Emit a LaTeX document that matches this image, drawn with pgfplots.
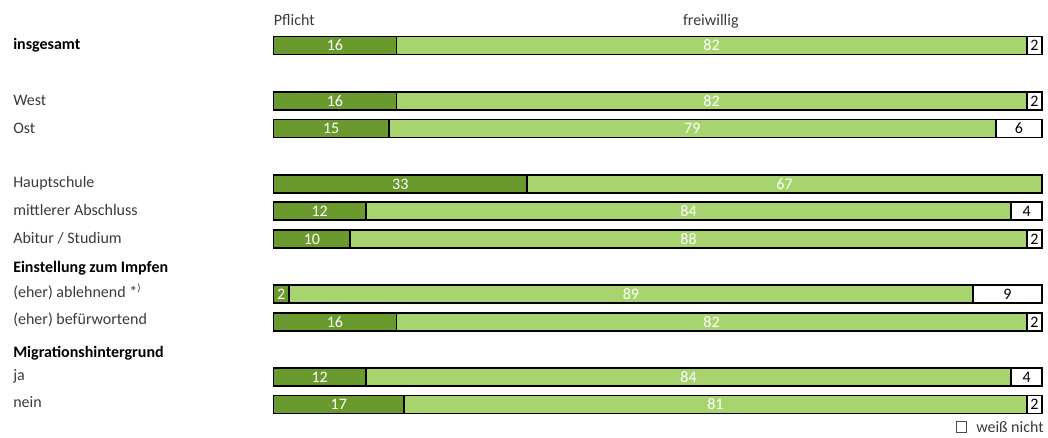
\documentclass[border=0pt]{standalone}
\usepackage{pgfplots}
\pgfplotsset{compat=1.18}
\usepackage{pgfplotstable}
\usepackage{fontspec}
\setmainfont{Carlito}

\definecolor{pflicht}{HTML}{6A992E}
\definecolor{frei}{HTML}{A8D470}
\definecolor{lbl}{HTML}{3A3A3A}

% y = row position (pixels from top), p = Pflicht, f = freiwillig, w = weiss nicht
\pgfplotstableread{
y     p  f  w
45.5  16 82 2
101   16 82 2
128.5 15 79 6
184   33 67 0
211   12 84 4
239   10 88 2
294   2  89 9
322   16 82 2
377   12 84 4
404.5 17 81 2
}\data

\pgfplotsset{
  frame/.style={
    width=786pt, height=327pt, scale only axis,
    xmin=-35.59, xmax=100.78, ymin=0, ymax=436, y dir=reverse,
    hide axis, clip=false},
  seglabel/.style={only marks, mark=none, forget plot, nodes near coords, point meta=explicit,
    /pgf/number format/assume math mode=true,
    nodes near coords style={anchor=center, inner sep=0pt, font=\fontsize{12}{14}\selectfont}},
}

\begin{document}
\begin{tikzpicture}[font=\fontsize{12}{14}\selectfont]
\begin{axis}[frame, xbar stacked, bar width=18,
  every axis plot/.append style={draw=black, line width=1.4pt}]
\addplot[fill=pflicht] table[x=p, y=y]{\data};
\addplot[fill=frei] table[x=f, y=y]{\data};
\addplot[fill=white] table[x=w, y=y]{\data};
\end{axis}

\begin{axis}[frame,
  legend style={at={(axis cs:100.6,428)}, anchor=east, draw=none, fill=none,
    inner sep=0pt, font=\fontsize{12}{14}\selectfont\color{lbl}},
  legend cell align=left]
\path (rel axis cs:0,0) rectangle (rel axis cs:1,1);
\addplot[seglabel, nodes near coords style={white}] table[x expr=\thisrow{p}/2, y=y, meta=p]{\data};
\addplot[seglabel, nodes near coords style={white}] table[x expr=\thisrow{p}+\thisrow{f}/2, y=y, meta=f]{\data};
\addplot[seglabel, nodes near coords style={black}, skip coords between index={3}{4}]
  table[x expr=100-\thisrow{w}/2, y=y, meta=w]{\data};
\addlegendimage{legend image code/.code={\draw[black!70, line width=0.5pt, fill=white] (0cm,-0.11cm) rectangle (0.27cm,0.17cm);}}
\addlegendentry{\hspace{5pt}weiß nicht}

\begin{scope}[every node/.style={inner sep=0pt, anchor=base west, text=lbl}]
\node at (axis cs:0,26) {Pflicht};
\node[anchor=base] at (axis cs:56.9,26) {freiwillig};
\node[text=black] at (axis cs:-33.9,50) {\bfseries insgesamt};
\node at (axis cs:-33.9,105) {West};
\node at (axis cs:-33.9,133) {Ost};
\node at (axis cs:-33.9,187.5) {Hauptschule};
\node at (axis cs:-33.9,215) {mittlerer Abschluss};
\node at (axis cs:-33.9,243) {Abitur / Studium};
\node[text=black] at (axis cs:-33.9,272.5) {\bfseries Einstellung zum Impfen};
\node at (axis cs:-33.9,297) {(eher) ablehnend *\textsuperscript{)}};
\node at (axis cs:-33.9,324) {(eher) befürwortend};
\node[text=black] at (axis cs:-33.9,357.5) {\bfseries Migrationshintergrund};
\node at (axis cs:-33.9,380) {ja};
\node at (axis cs:-33.9,407.5) {nein};
\end{scope}
\end{axis}
\end{tikzpicture}
\end{document}
